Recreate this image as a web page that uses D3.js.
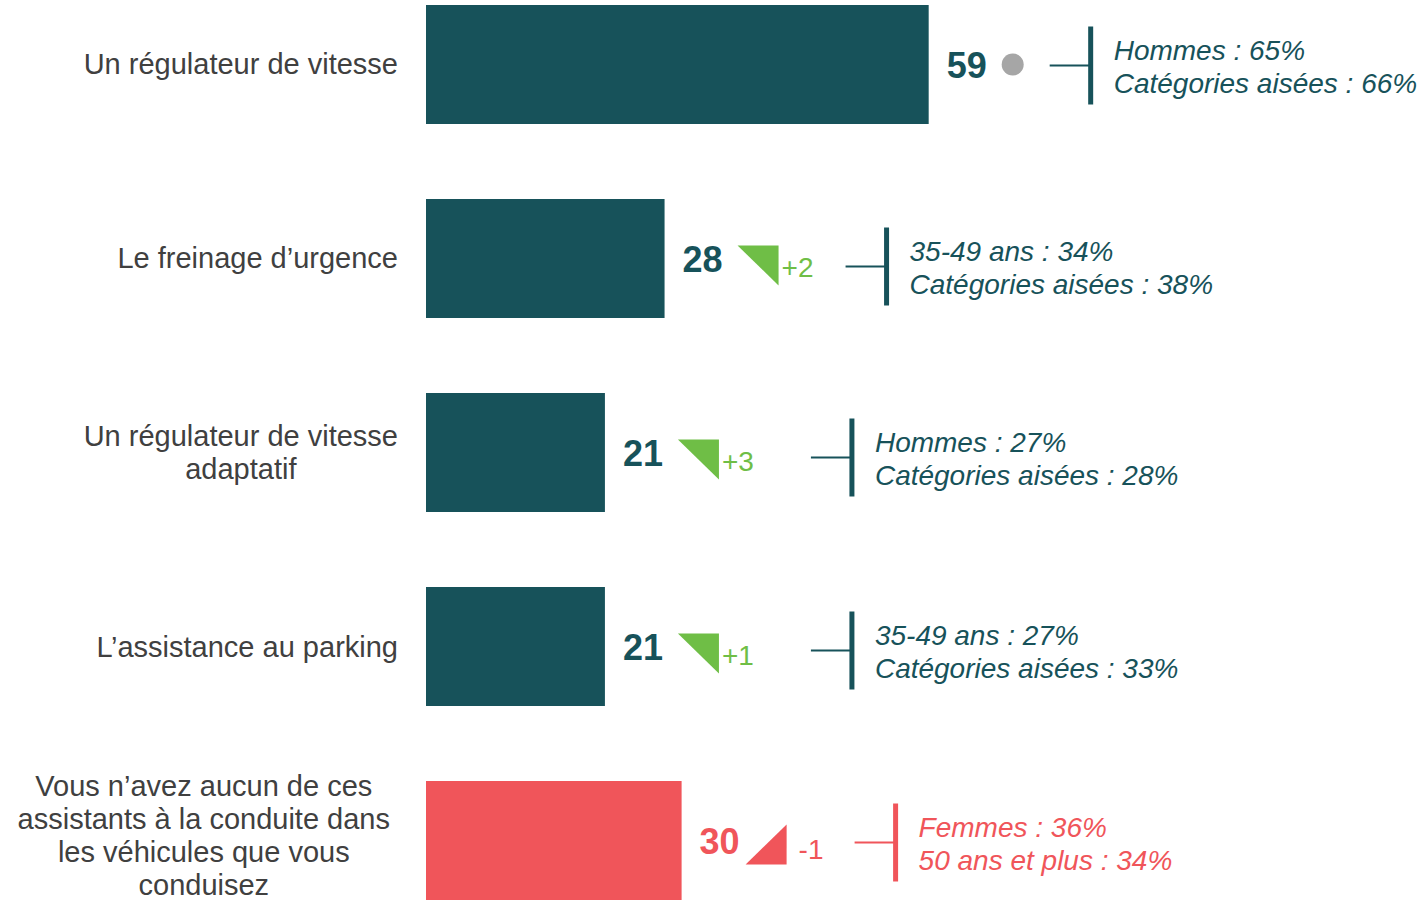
<!DOCTYPE html>
<html>
<head>
<meta charset="utf-8">
<script src="https://cdn.jsdelivr.net/npm/d3@7"></script>
<style>
  body { margin: 0; background: #fff; }
  text { font-family: "Liberation Sans", Arial, sans-serif; }
</style>
</head>
<body>
<div class="center"></div>
<script>
// data
const categories = [
  ["Un régulateur de vitesse"],
  ["Le freinage d’urgence"],
  ["Un régulateur de vitesse", "adaptatif"],
  ["L’assistance au parking"],
  ["Vous n’avez aucun de ces", "assistants à la conduite dans", "les véhicules que vous", "conduisez"]
];
const values = [59, 28, 21, 21, 30];
const deltas = [0, 2, 3, 1, -1];
const highlight = [false, false, false, false, true];
const subgroups = [
  ["Hommes : 65%", "Catégories aisées : 66%"],
  ["35-49 ans : 34%", "Catégories aisées : 38%"],
  ["Hommes : 27%", "Catégories aisées : 28%"],
  ["35-49 ans : 27%", "Catégories aisées : 33%"],
  ["Femmes : 36%", "50 ans et plus : 34%"]
];

// layout
const width = 1422, height = 903;
const teal = "#17525a", red = "#f0555a", green = "#6fbe46", grey = "#a6a6a6";
const labelRight = 398;
const bracketGap = [121, 181, 206, 206, 173]; // from bar end to bracket
const bracketDy = [1, 8, 5, 4, 2];            // from row centre

const svg = d3.select(".center").append("svg")
    .attr("width", width)
    .attr("height", height);

const idx = d3.range(values.length);

const xScale = d3.scaleLinear()
    .domain([0, 100])
    .range([426, 1278]);

const yScale = d3.scaleBand()
    .domain(idx)
    .range([5, 900])
    .paddingInner(0.3866)
    .paddingOuter(0);

const bw = yScale.bandwidth();
const colorOf = i => highlight[i] ? red : teal;

// bars
svg.selectAll("rect.bar")
    .data(idx)
    .enter().append("rect")
    .attr("class", "bar")
    .attr("x", xScale(0))
    .attr("y", i => yScale(i))
    .attr("width", i => xScale(values[i]) - xScale(0))
    .attr("height", bw)
    .style("fill", colorOf);

// category labels
idx.forEach(i => {
  const lines = categories[i];
  const long = lines.length > 2;
  const cy = yScale(i) + bw / 2 - (long ? 5 : 0);
  const lh = long ? 33 : 33.5;
  const t = svg.append("text")
      .style("font-size", "29px")
      .style("fill", "#404040");
  lines.forEach((l, k) => {
    t.append("tspan")
      .attr("y", cy + (k - (lines.length - 1) / 2) * lh)
      .attr("dominant-baseline", "central")
      .text(l);
  });
  if (lines.length === 1) {
    t.attr("text-anchor", "end");
    t.selectAll("tspan").attr("x", labelRight);
  } else {
    let maxW = 0;
    t.selectAll("tspan").attr("x", 0).each(function() {
      maxW = Math.max(maxW, this.getComputedTextLength());
    });
    const cx = labelRight - maxW / 2 - (long ? 8 : 0);
    t.attr("text-anchor", "middle");
    t.selectAll("tspan").attr("x", cx);
  }
});

// values, markers, brackets
idx.forEach(i => {
  const end = xScale(values[i]);
  const cy = yScale(i) + bw / 2;
  const col = colorOf(i);

  svg.append("text")
      .attr("x", end + 18)
      .attr("y", cy + 1)
      .attr("dominant-baseline", "central")
      .style("font-size", "36px")
      .style("font-weight", "700")
      .style("fill", col)
      .text(values[i]);

  if (deltas[i] === 0) {
    const mx = end + 73;
    svg.append("circle")
        .attr("cx", mx + 11)
        .attr("cy", cy)
        .attr("r", 11)
        .style("fill", grey);
  } else if (deltas[i] > 0) {
    const mx = end + 73;
    const ty = cy + 7;
    svg.append("path")
        .attr("d", `M${mx},${ty - 20}L${mx + 41},${ty - 20}L${mx + 41},${ty + 20}Z`)
        .style("fill", green);
    svg.append("text")
        .attr("x", mx + 44)
        .attr("y", ty + 2)
        .attr("dominant-baseline", "central")
        .style("font-size", "28px")
        .style("fill", green)
        .text("+" + deltas[i]);
  } else {
    const mx = end + 64;
    const ty = cy + 4;
    svg.append("path")
        .attr("d", `M${mx},${ty + 20}L${mx + 41},${ty - 20}L${mx + 41},${ty + 20}Z`)
        .style("fill", red);
    svg.append("text")
        .attr("x", mx + 53)
        .attr("y", ty + 5)
        .attr("dominant-baseline", "central")
        .style("font-size", "28px")
        .style("fill", red)
        .text(deltas[i]);
  }

  // bracket
  const bx = end + bracketGap[i];
  const by = cy + bracketDy[i];
  svg.append("line")
      .attr("x1", bx).attr("x2", bx + 41)
      .attr("y1", by).attr("y2", by)
      .style("stroke", col)
      .style("stroke-width", 2);
  svg.append("line")
      .attr("x1", bx + 41).attr("x2", bx + 41)
      .attr("y1", by - 39).attr("y2", by + 39)
      .style("stroke", col)
      .style("stroke-width", 5);
  subgroups[i].forEach((s, k) => {
    svg.append("text")
        .attr("x", bx + 64)
        .attr("y", by - 15 + k * 33)
        .attr("dominant-baseline", "central")
        .style("font-size", "28px")
        .style("font-style", "italic")
        .style("fill", col)
        .text(s);
  });
});
</script>
</body>
</html>
